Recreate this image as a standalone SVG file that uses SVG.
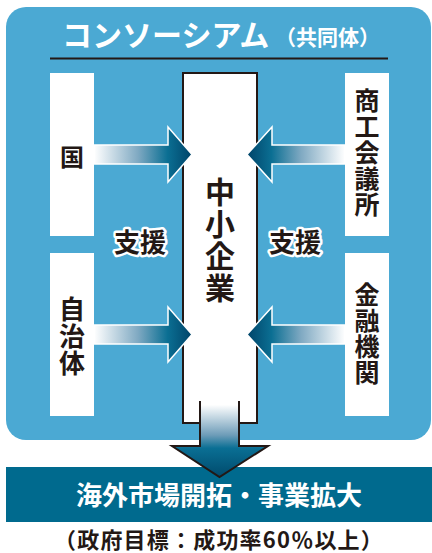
<svg xmlns="http://www.w3.org/2000/svg" width="432" height="553" viewBox="0 0 432 553">
<defs>
<style>
text{font-family:"Noto Sans CJK JP","Noto Sans",sans-serif;fill:#231815;font-weight:700}
.w{fill:#fff}
.box{fill:#fff}
.v{text-anchor:middle}
.halo{paint-order:stroke;stroke:#fff;stroke-width:5;stroke-linejoin:round}
.harrow{stroke:#fff;stroke-width:1.5;stroke-linejoin:miter}
</style>
<linearGradient id="gl" x1="94" y1="0" x2="192" y2="0" gradientUnits="userSpaceOnUse">
<stop offset="0" stop-color="#ffffff"/>
<stop offset="0.45" stop-color="#7fa9c2"/>
<stop offset="0.75" stop-color="#0b6f93"/>
<stop offset="1" stop-color="#004469"/>
</linearGradient>
<linearGradient id="gr" x1="345" y1="0" x2="247" y2="0" gradientUnits="userSpaceOnUse">
<stop offset="0" stop-color="#ffffff"/>
<stop offset="0.45" stop-color="#7fa9c2"/>
<stop offset="0.75" stop-color="#0b6f93"/>
<stop offset="1" stop-color="#004469"/>
</linearGradient>
<linearGradient id="gd" x1="0" y1="401" x2="0" y2="477" gradientUnits="userSpaceOnUse">
<stop offset="0.05" stop-color="#ffffff"/>
<stop offset="0.45" stop-color="#6d9cb8"/>
<stop offset="0.62" stop-color="#0a6f94"/>
<stop offset="1" stop-color="#004a6c"/>
</linearGradient>
</defs>

<g id="consortium">
<rect x="6" y="7" width="425" height="433" rx="20" fill="#4BA9D3"/>
<text x="62" y="46" class="w" font-size="30">コンソーシアム</text>
<text x="275" y="45" class="w" font-size="21">（共同体）</text>
<line x1="50" y1="58.5" x2="388" y2="58.5" stroke="#231815" stroke-width="2"/>
</g>

<g id="kuni">
<rect x="50" y="73" width="44" height="163" class="box"/>
<text x="72" y="166" class="v" font-size="24">国</text>
</g>
<g id="jichitai">
<rect x="50" y="253" width="44" height="163" class="box"/>
<text class="v" font-size="26"><tspan x="72" y="319">自</tspan><tspan x="72" y="346">治</tspan><tspan x="72" y="373">体</tspan></text>
</g>
<g id="shoko">
<rect x="345" y="73" width="44" height="163" class="box"/>
<text class="v" font-size="25"><tspan x="367" y="110">商</tspan><tspan x="367" y="136">工</tspan><tspan x="367" y="162">会</tspan><tspan x="367" y="188">議</tspan><tspan x="367" y="214">所</tspan></text>
</g>
<g id="kinyu">
<rect x="345" y="253" width="44" height="163" class="box"/>
<text class="v" font-size="25"><tspan x="367" y="304">金</tspan><tspan x="367" y="330">融</tspan><tspan x="367" y="356">機</tspan><tspan x="367" y="382">関</tspan></text>
</g>

<g id="chusho">
<rect x="183" y="73" width="74" height="350" class="box"/>
<path d="M200,423 H183 V73 H257 V423 H239" fill="none" stroke="#231815" stroke-width="2"/>
<text class="v" font-size="30"><tspan x="220" y="203">中</tspan><tspan x="220" y="235">小</tspan><tspan x="220" y="267">企</tspan><tspan x="220" y="299">業</tspan></text>
</g>

<g id="connectors">
<path class="harrow" d="M94,145 H168 V127 L192,154.5 L168,182 V164 H94 Z" fill="url(#gl)"/>
<path class="harrow" d="M94,325 H168 V307 L192,334.5 L168,362 V344 H94 Z" fill="url(#gl)"/>
<path class="harrow" d="M345,145 H272 V127 L247,154.5 L272,182 V164 H345 Z" fill="url(#gr)"/>
<path class="harrow" d="M345,325 H272 V307 L247,334.5 L272,362 V344 H345 Z" fill="url(#gr)"/>
<text x="140" y="252" class="v halo" font-size="26">支援</text>
<text x="295" y="252" class="v halo" font-size="26">支援</text>
</g>

<g id="result">
<rect x="6" y="467" width="426" height="55" fill="#006A8E"/>
<path d="M200,401 V446 H172 L219.5,477 L268,446 H239 V401 Z" fill="url(#gd)"/>
<path d="M200,401 V446 H172 L219.5,477 L268,446 H239 V401" fill="none" stroke="#231815" stroke-width="2" stroke-linejoin="miter"/>
<text x="219" y="505" class="v w" font-size="26">海外市場開拓・事業拡大</text>
</g>

<g id="goal">
<text x="219" y="548" class="v" font-size="22" letter-spacing="1.2">（政府目標：成功率60％以上）</text>
</g>
</svg>
